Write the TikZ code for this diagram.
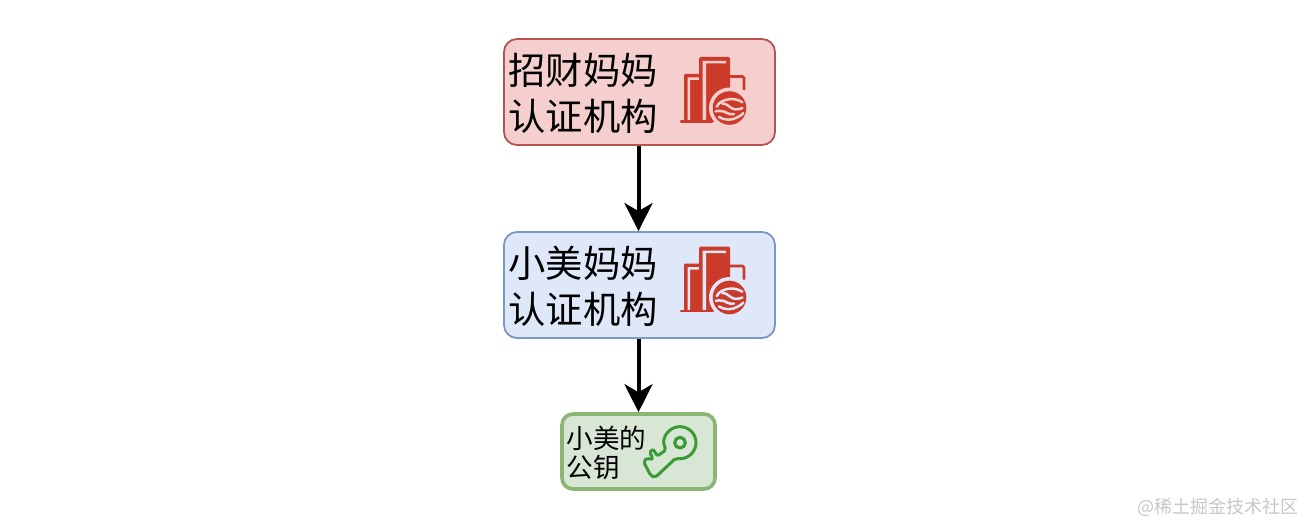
\documentclass[tikz,border=0pt]{standalone}
\usepackage{fontspec}
\setmainfont{Noto Sans CJK SC}
\usetikzlibrary{arrows.meta}
\definecolor{redfill}{HTML}{F4CFCD}
\definecolor{redline}{HTML}{B85450}
\definecolor{bluefill}{HTML}{DEE8F8}
\definecolor{blueline}{HTML}{7C97C6}
\definecolor{greenfill}{HTML}{D8E6D5}
\definecolor{greenline}{HTML}{8AB573}
\definecolor{iconred}{HTML}{CC3B2A}
\definecolor{keygreen}{HTML}{3A9A33}
\tikzset{
  box/.style={draw,rounded corners=13pt,line width=1.8pt,minimum width=271pt,minimum height=106pt,inner sep=0pt},
  smallbox/.style={draw=greenline,fill=greenfill,rounded corners=11pt,line width=3.6pt,minimum width=153pt,minimum height=75pt,inner sep=0pt},
  big/.style={font=\fontsize{37.3}{37.3}\selectfont,inner sep=0pt,anchor=center},
  small/.style={font=\fontsize{26.6}{26.6}\selectfont,inner sep=0pt,anchor=center},
  link/.style={line width=4pt,-{Stealth[length=28pt,width=28pt,inset=8pt]}}
}
\newcommand{\bankicon}[3]{%
\begin{scope}[shift={(#1,#2)}]
  \draw[iconred,line width=2.8pt,rounded corners=1.5pt] (58,36.5) -- (74,36.5) -- (74,50);
  \fill[iconred,rounded corners=1pt] (14,82) -- (14,34) -- (32,34) -- (32,82) -- cycle;
  \fill[#3] (17.5,82) -- (17.5,37.5) -- (29,37.5) -- (29,40) -- (20,40) -- (20,82) -- cycle;
  \fill[iconred,rounded corners=1.5pt] (29,82) -- (29,17) -- (60,17) -- (60,60) -- (45,82) -- cycle;
  \fill[#3] (32.5,82) -- (32.5,21) -- (56,21) -- (56,23.5) -- (36,23.5) -- (36,82) -- cycle;
  \fill[#3] (59.5,68) circle[radius=20.5];
  \draw[iconred,line width=2.8pt,line cap=round] (11,81.5) -- (42,81.5);
  \fill[iconred] (59.5,68) circle[radius=16.8];
  \draw[#3,line width=2.5pt,line cap=round] (46.7,66.7) .. controls (49,62) and (53,60) .. (60.7,59) .. controls (65,59) and (69,60) .. (72.3,62.3);
  \draw[#3,line width=2.5pt,line cap=round] (52.3,63.5) .. controls (56,63.5) and (58,65.5) .. (60,67) .. controls (63,70) and (68,70) .. (72.5,68);
  \draw[#3,line width=2.5pt,line cap=round] (45.7,71.3) .. controls (50,70.5) and (54,71) .. (57,73) .. controls (59,74.5) and (62,74.5) .. (64,74);
  \draw[#3,line width=2.5pt,line cap=round] (49,77) .. controls (54,80.5) and (63,80.5) .. (67.3,77.3) .. controls (70,76) and (72,75) .. (73.3,73);
\end{scope}}
\begin{document}
\begin{tikzpicture}[x=1pt,y=-1pt]
\useasboundingbox (0,0) rectangle (1304,524);
\fill[white] (0,0) rectangle (1304,524);
\node[box,draw=redline,fill=redfill] (a) at (639.5,92) {};
\node[box,draw=blueline,fill=bluefill] (b) at (639.5,285) {};
\node[smallbox] (c) at (638.5,451.5) {};
\draw[link] (a.south -| c.north) -- (b.north -| c.north);
\draw[link] (b.south -| c.north) -- (c.north);
\node[big] (a1) at (583,70) {招财妈妈};
\node[big] (a2) at (583,116) {认证机构};
\node[big] (b1) at (583,263) {小美妈妈};
\node[big] (b2) at (583,309) {认证机构};
\node[small] (c1) at (606.5,438) {小美的};
\node[small] (c2) at (593.5,467) {公钥};
\bankicon{670}{40}{redfill}
\bankicon{670}{229.5}{bluefill}
\begin{scope}[shift={(640,420)},x=0.3333pt,y=-0.3333pt,line join=round]
  \draw[keygreen,line width=3pt,rounded corners=2pt]
    (120,68)++(168:48) arc[start angle=168,end angle=465,radius=48]
    -- (46,172) -- (33,168) -- (11,126) -- (21,113) -- (33,120) -- (39,113) -- (28,98) -- (39,87) -- (52,108) -- (78,90) -- cycle;
  \draw[keygreen,line width=3.2pt] (120,68) circle[radius=16];
\end{scope}
\node[font=\fontsize{18}{18}\selectfont,text=black!22,inner sep=0pt] (w) at (1218,507) {@稀土掘金技术社区};
\end{tikzpicture}
\end{document}
